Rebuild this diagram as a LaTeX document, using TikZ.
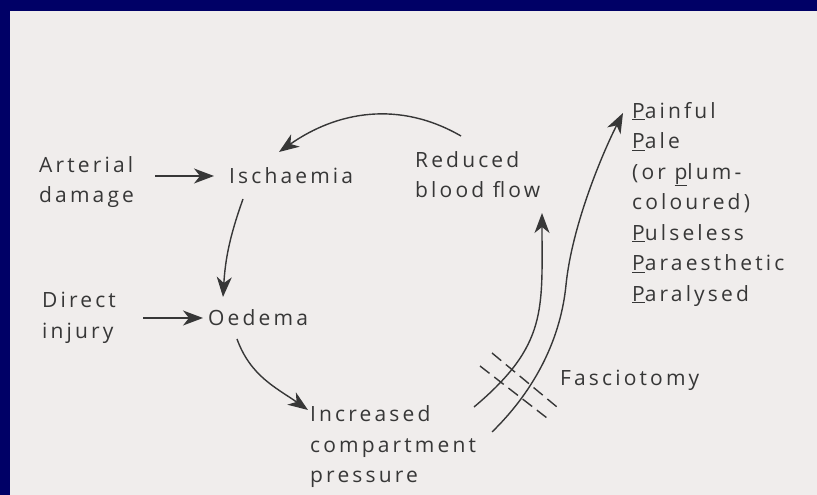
\documentclass[tikz,border=0pt]{standalone}
\usepackage{fontspec}
\setmainfont[LetterSpace=15]{Open Sans}
\usepackage{tikz}
\usetikzlibrary{arrows.meta,calc,positioning}

\definecolor{frameblue}{RGB}{0,0,102}
\definecolor{paper}{RGB}{240,237,236}
\definecolor{ink}{RGB}{55,55,55}

\begin{document}
\begin{tikzpicture}[x=1pt,y=1pt,>={Stealth[length=20pt,width=15pt,inset=6pt]},
    txt/.style={anchor=west,inner sep=0pt,align=left,text=ink,font=\fontsize{21}{30.5}\selectfont},
    link/.style={->,draw=ink,line width=1.4pt},
    cutline/.style={draw=ink,line width=1.4pt,dash pattern=on 12pt off 6pt}]
    \useasboundingbox (0,0) rectangle (817,495);
    \fill[frameblue] (0,0) rectangle (817,495);
    \fill[paper] (10,0) rectangle (817,484);

    % causes and the cycle
    \node[txt] (arterial) at (39,313) {Arterial\\damage};
    \node[txt] (ischaemia) at (229,319) {Ischaemia};
    \node[txt] (reduced) at (415,320.5) {Reduced\\blood flow};
    \node[txt] (direct) at (42,177) {Direct\\injury};
    \node[txt] (oedema) at (208,177) {Oedema};
    \node[txt] (pressure) at (310,48) {Increased\\compartment\\pressure};

    % the five P's
    \node[txt] (signs) at (632,291) {\underline{P}ainful\\\underline{P}ale\\(or \underline{p}lum-\\coloured)\\\underline{P}ulseless\\\underline{P}araesthetic\\\underline{P}aralysed};
    \node[txt] (fasciotomy) at (560,115) {Fasciotomy};

    \draw[link] ([xshift=-74pt]ischaemia.west) -- ([xshift=-15pt]ischaemia.west);
    \draw[link] ([xshift=-65pt]oedema.west) -- ([xshift=-5pt]oedema.west);

    \draw[link] ([shift={(14,-23)}]ischaemia.west) to[bend right=8] ([shift={(15,21)}]oedema.west);
    \draw[link] ([shift={(29,-21)}]oedema.west) to[out=-70,in=145] ([shift={(-2,37)}]pressure.west);
    \draw[link] ([shift={(164,40)}]pressure.west) to[out=40,in=-90,looseness=1.2] ([shift={(127,-38.5)}]reduced.west);
    \draw[link] ([shift={(46,38.5)}]reduced.west) to[out=150,in=35] ([shift={(50,24)}]ischaemia.west);
    \draw[link] ([shift={(182,15)}]pressure.west) .. controls (530,100) and (560,150) .. (566,210)
        .. controls (572,270) and (603,343) .. ([shift={(-9,91)}]signs.west);

    % cuts across both paths
    \coordinate (cutA) at (492,142);
    \coordinate (cutB) at (557,88);
    \coordinate (cutC) at (480,129);
    \coordinate (cutD) at (547,77);
    \draw[cutline] (cutA) -- (cutB);
    \draw[cutline] (cutC) -- (cutD);
\end{tikzpicture}
\end{document}
